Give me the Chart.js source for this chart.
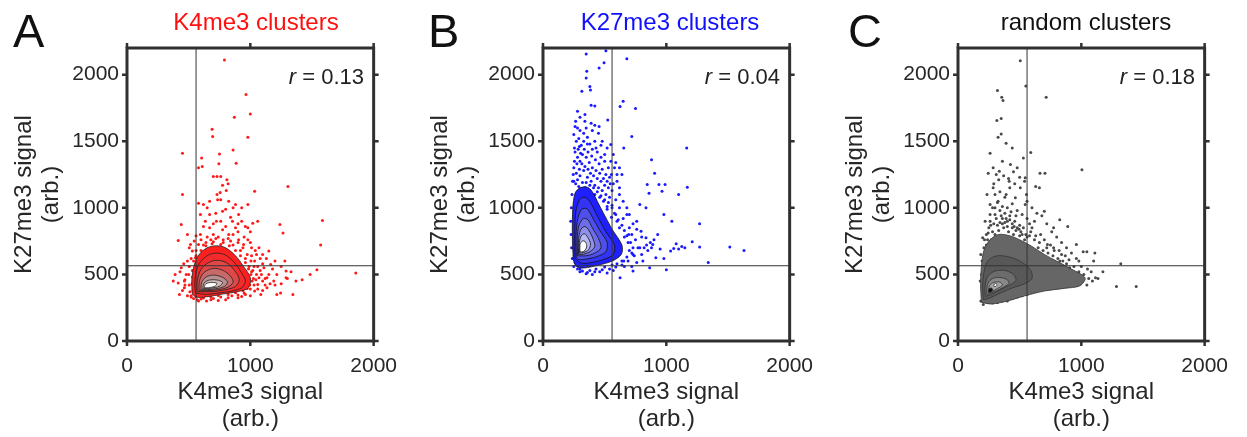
<!DOCTYPE html>
<html>
<head>
<meta charset="utf-8">
<script src="https://cdn.jsdelivr.net/npm/chart.js@4.4.1/dist/chart.umd.min.js"></script>
<style>
body { margin:0; background:#fff; width:1247px; height:437px; position:relative; overflow:hidden;
       font-family:"Liberation Sans", Arial, sans-serif; color:#222; }
canvas { position:absolute; top:0; }
.letter { position:absolute; top:7px; font-size:47px; line-height:1; color:#111; }
.title { position:absolute; top:10px; font-size:24px; line-height:1; transform:translateX(-50%); white-space:nowrap; }
.rval { position:absolute; top:66px; font-size:22px; line-height:1; transform:translateX(-100%); white-space:nowrap; color:#222; }
</style>
</head>
<body>
<canvas id="cA" width="410" height="437" style="left:0px"></canvas>
<canvas id="cB" width="410" height="437" style="left:416px"></canvas>
<canvas id="cC" width="410" height="437" style="left:831px"></canvas>

<div class="letter" style="left:13px">A</div>
<div class="letter" style="left:428px">B</div>
<div class="letter" style="left:848px">C</div>
<div class="title" id="tA" style="left:256px;color:#ff1010"></div>
<div class="title" id="tB" style="left:670px;color:#1010ff"></div>
<div class="title" id="tC" style="left:1086px;color:#111"></div>
<div class="rval" id="rA" style="left:364px"></div>
<div class="rval" id="rB" style="left:780px"></div>
<div class="rval" id="rC" style="left:1195px"></div>

<script>
// axes
const xTicks = [0, 1000, 2000];
const yTicks = [0, 500, 1000, 1500, 2000];
const xMax = 2000, yMax = 2200;
const refX = 560, refY = 565;   // the two cut-off lines

const panelTitles = ['K4me3 clusters', 'K27me3 clusters', 'random clusters'];
const rValues = ['0.13', '0.04', '0.18'];

// ---- panel A : K4me3 clusters ----
const aPoints = [
  [790,2110],[965,1850],[1000,1705],[870,1680],[690,1590],[695,1535],[980,1530],[450,1410],[750,1405],[860,1435],
  [885,1335],[605,1375],[745,1330],[700,1235],[730,1235],[760,1235],[810,1210],[820,1180],[775,1170],[805,1130],
  [755,1115],[450,1100],[1305,1160],[610,1310],[580,1300],[1035,1125],[730,1100],[670,1050],[580,1035],[620,1025],
  [735,1060],[825,1050],[880,1025],[930,1000],[980,1025],[905,950],[595,950],[775,975],[1020,885],[1060,900],
  [980,850],[440,875],[415,755],[490,800],[515,725],[1240,875],[1265,810],[1585,905],[1570,720],[1540,535],
  [1855,510],[1485,500],[1420,460],[1345,350],[1245,360],[1135,400],[1190,450],[1070,475],[1110,550],[1035,600],
  [1165,575],[1215,500],[1010,700],[905,760],[825,800],[775,835],[670,850],[635,900],[580,725],[530,675],
  [490,600],[440,550],[390,500],[375,450],[415,435],[465,400],[505,700],[545,750],[855,900],[930,900],
  [1070,700],[1150,675],[1290,475],[1370,450],[1215,350],[1085,350],[1035,375],[930,335],[800,310],[645,300],
  [570,310],[1060,425],[1135,475],[1290,525],[945,725],[670,950],[725,900],[880,850],[980,760],[595,800],
  [555,625],[465,450],[425,350],[540,320],[600,315],[700,320],[760,330],[850,340],[950,360],[1000,390],
  [1030,420],[1010,520],[990,560],[960,620],[920,680],[860,720],[780,740],[700,745],[620,720],[560,680],
  [520,620],[505,560],[500,500],[505,420],[510,370],[520,340],[1050,500],[1080,530],[1100,450],[1120,420],
  [1150,500],[1180,540],[1200,420],[1250,430],[1300,470],[1330,520],[650,780],[700,800],[740,780],[820,770],
  [860,800],[900,820],[950,780],[1000,740],[1050,650],[1080,620],[1100,580],[600,760],[560,790],[620,860],
  [700,880],[760,900],[800,860],[840,930],[900,880],[960,860],[1000,820],[720,960],[800,990],[860,1000],
  [760,1060],[650,1000],[1010,640],[1040,680],[1100,650],[1130,620],[1200,600],[1250,560],[1280,600],[480,500],
  [470,420],[450,380],[490,340],[470,460],[430,520],[460,580],[520,330],[580,300],[680,310],[740,305],
  [900,345],[960,350],[1015,450],[1025,470],[1005,500],[995,420],[975,395],[940,380],[880,362],[820,350],
  [740,342],[680,330],[620,322],[560,335],[535,380],[528,430],[530,480],[530,530],[540,600],[560,640],
  [600,680],[640,715],[690,730],[760,725],[830,715],[880,680],[920,640],[960,590],[985,540],[1020,530],
  [1045,460],[1060,390],[640,740],[680,760],[720,770],[780,760],[840,750],[900,740],[940,700],[975,650],
  [1005,600],[1030,560],[1060,560],[1090,500],[1120,470],[1160,430],[1100,380],[1000,340],[900,325],[820,325]
];
const aContours = [
  [[530,350],[525,450],[545,570],[585,650],[650,700],[725,715],[800,700],[880,640],[945,560],[1000,475],[985,400],[905,372],[775,352],[670,335],[570,328]],
  [[555,360],[550,450],[570,550],[610,610],[670,650],[730,660],[800,645],[870,590],[930,510],[960,450],[930,400],[850,375],[740,360],[640,350]],
  [[570,370],[568,440],[590,520],[630,570],[690,600],[750,605],[820,580],[880,520],[910,460],[880,410],[800,385],[700,372]],
  [[585,378],[585,440],[610,500],[660,535],[720,545],[790,525],[845,480],[860,440],[820,405],[740,385],[650,378]],
  [[600,385],[605,440],[640,480],[700,495],[770,480],[815,445],[790,410],[720,392],[650,385]],
  [[615,392],[625,435],[670,458],[730,458],[775,440],[750,412],[690,398]],
  [[625,400],[640,430],[690,440],[730,432],[710,410],[660,400]]
];
const aFills = ['#ff1f1f','#f52a2a','#e04848','#c86868','#b89090','#d4bcbc','#ffffff'];

// ---- panel B : K27me3 clusters ----
const bPoints = [
  [350,2155],[510,2180],[680,2120],[495,2090],[455,2050],[355,2025],[350,1975],[380,1910],[385,1885],[315,1875],
  [650,1800],[625,1760],[750,1745],[390,1770],[420,1765],[280,1725],[340,1650],[260,1610],[390,1635],[455,1610],
  [525,1660],[720,1535],[1165,1450],[550,1475],[655,1450],[880,1360],[905,1260],[845,1175],[940,1175],[990,1175],
  [860,1110],[965,1125],[1100,1100],[1170,1155],[1270,880],[1045,900],[980,950],[785,1025],[835,1000],[1515,705],
  [1630,680],[1340,590],[1270,705],[1210,745],[1125,710],[1150,700],[1060,695],[1035,675],[915,625],[1000,535],
  [865,550],[730,525],[625,475],[785,700],[835,775],[890,725],[795,825],[760,900],[680,950],[695,800],
  [655,600],[730,650],[810,600],[250,1550],[270,1500],[290,1520],[310,1470],[330,1560],[360,1530],[380,1480],
  [400,1440],[420,1500],[440,1420],[470,1380],[500,1350],[530,1300],[555,1250],[260,1420],[280,1380],[300,1350],
  [320,1400],[350,1380],[375,1340],[400,1300],[430,1280],[460,1260],[490,1220],[520,1200],[545,1180],[250,1300],
  [270,1260],[300,1240],[330,1280],[360,1230],[390,1200],[420,1170],[450,1150],[480,1130],[240,1200],[265,1180],
  [290,1160],[235,1100],[230,1000],[225,900],[228,800],[232,700],[238,620],[250,560],[280,540],[320,525],
  [380,530],[430,540],[500,555],[560,570],[600,580],[640,600],[680,630],[700,680],[690,740],[660,780],
  [620,850],[600,900],[580,960],[560,1020],[540,1080],[510,1100],[560,1130],[590,1060],[620,1000],[650,920],
  [700,850],[720,800],[750,760],[770,700],[740,640],[600,1200],[620,1150],[570,1400],[590,1340],[520,1450],
  [480,1500],[450,1560],[420,1620],[300,1680],[340,1700],[280,1600],[490,1050],[520,990],[555,930],[520,1010],
  [460,1080],[420,1100],[380,1130],[340,1150],[300,1140],[570,530],[520,510],[460,520],[400,500],[350,505],
  [300,520],[660,560],[720,560],[760,590],[800,650],[820,700],[850,680],[870,740],[900,760],[930,800],
  [950,690],[980,620],[1080,730],[1100,690],[245,1250],[255,1350],[275,1330],[295,1290],[315,1330],[340,1310],
  [365,1290],[385,1260],[410,1240],[440,1220],[470,1200],[500,1170],[530,1150],[255,1450],[285,1440],[305,1410],
  [335,1440],[365,1420],[395,1390],[425,1360],[455,1330],[480,1290],[510,1250],[540,1230],[265,1650],[300,1580],
  [350,1600],[400,1580],[430,1450],[470,1470],[360,1480],[330,1500],[295,1460],[500,1400],[550,1350],[580,1300],
  [600,1250],[570,1180],[620,1100],[650,1050],[680,1000],[700,950],[730,880],[760,840],[800,780],[840,720],
  [880,700],[620,1300],[640,1250],[250,1200],[280,1210],[320,1190],[350,1190],[380,1170],[410,1150],[440,1120],
  [470,1090],[500,1060],[530,1040],[560,1000],[590,950],[610,910],[640,870],[660,830],[680,790],[710,740],
  [730,700],[720,660],[690,600],[640,570],[590,555],[540,540],[480,535],[420,520],[360,515],[300,540],[260,590]
];
const bContours = [
  [[245,610],[238,800],[242,1000],[260,1110],[300,1150],[360,1155],[400,1120],[440,1050],[490,960],[560,840],[640,720],[635,650],[560,600],[450,570],[330,548],[270,560]],
  [[260,620],[258,800],[265,960],[295,1060],[340,1080],[385,1040],[440,940],[510,820],[580,720],[570,650],[500,615],[400,590],[310,585]],
  [[270,630],[268,790],[282,920],[315,990],[358,992],[400,930],[460,830],[520,740],[510,670],[440,635],[350,615],[290,612]],
  [[280,640],[278,770],[292,870],[328,920],[365,910],[400,850],[450,770],[470,700],[420,660],[350,640]],
  [[288,650],[288,760],[303,830],[333,860],[365,840],[400,780],[420,710],[380,670],[330,652]],
  [[295,660],[295,740],[310,790],[336,805],[362,780],[385,730],[370,685],[330,665]],
  [[300,670],[300,725],[318,750],[340,748],[355,715],[340,680],[315,668]]
];
const bFills = ['#1f1fff','#3434f4','#4f4fec','#6d6de6','#9090ea','#b8b8f2','#ffffff'];

// ---- panel C : random clusters ----
const cPoints = [
  [505,2105],[550,1915],[715,1830],[320,1880],[355,1830],[365,1805],[315,1655],[350,1670],[325,1530],[350,1555],
  [390,1485],[440,1450],[590,1415],[1005,1285],[665,1260],[705,1260],[530,1375],[260,1410],[285,1300],[245,1260],
  [310,1250],[360,1350],[425,1325],[480,1300],[545,1225],[630,1160],[660,1150],[825,910],[890,860],[700,975],
  [775,850],[960,725],[1015,670],[1045,670],[1110,660],[1175,520],[1115,475],[1135,470],[1320,580],[1285,410],
  [1445,410],[1045,420],[995,450],[905,550],[825,600],[980,600],[930,450],[1020,500],[775,700],[670,800],
  [725,725],[620,900],[545,1025],[465,1075],[390,1100],[325,1050],[260,1025],[220,900],[200,775],[185,650],
  [180,450],[185,300],[205,275],[400,300],[335,1275],[415,1200],[505,1150],[285,1150],[235,1100],[555,1100],
  [260,900],[300,950],[340,980],[380,960],[420,940],[460,900],[500,870],[280,1000],[320,1040],[360,1010],
  [400,1000],[440,1030],[480,980],[520,950],[560,920],[580,880],[600,850],[250,850],[230,800],[650,700],
  [690,680],[730,660],[770,640],[810,620],[850,600],[880,580],[920,520],[950,500],[1000,470],[860,470],
  [820,450],[780,430],[740,410],[700,395],[640,380],[600,370],[560,350],[520,340],[480,330],[440,320],
  [360,300],[320,290],[280,285],[240,290],[210,320],[195,400],[190,500],[195,600],[210,700],[300,1100],
  [340,1120],[380,1080],[420,1150],[460,1180],[290,1180],[330,1210],[370,1240],[410,1220],[450,1270],[500,1230],
  [540,1200],[560,1050],[600,1000],[640,960],[680,940],[720,880],[760,820],[800,780],[840,740],[880,700],
  [920,660],[960,620],[1000,560],[1050,540],[1080,520],[1100,600],[590,820],[630,790],[560,780],[520,800],
  [480,850],[440,880],[400,900],[360,920],[290,880],[240,760],[700,760],[750,720],[820,680],[870,640],
  [940,560],[980,520],[1060,470],[1090,450],[230,720],[250,700],[270,760],[300,800],[330,830],[370,850],
  [410,820],[450,800],[500,790],[540,760],[280,820],[320,870],[360,880],[400,860],[440,850],[470,830],
  [510,820],[550,800],[220,650],[240,620],[300,720],[420,700],[480,720],[260,950],[300,1000],[350,940],
  [390,920],[430,970],[470,940],[340,890],[215,760],[245,810],[265,870],[310,920],[380,890],[420,910],
  [455,860],[495,840],[530,850],[580,790],[620,760],[660,740],[720,700],[780,680],[840,650],[900,610]
];
const cContours = [
  [[190,290],[183,420],[190,560],[210,680],[260,760],[330,800],[420,790],[500,760],[600,710],[700,650],[800,600],[900,550],[1030,475],[990,415],[860,395],[700,375],[545,340],[400,300],[270,278]],
  [[205,310],[200,420],[215,540],[250,610],[320,640],[420,630],[520,590],[590,530],[600,470],[540,430],[430,395],[320,350],[250,320]],
  [[220,335],[220,420],[245,490],[300,525],[380,530],[450,500],[470,455],[420,420],[340,385],[270,350]],
  [[232,350],[238,420],[268,462],[325,478],[390,465],[415,435],[370,405],[300,372]],
  [[245,365],[255,415],[290,440],[340,442],[360,420],[320,395],[275,372]],
  [[245,368],[250,392],[272,398],[282,382],[265,366]],
  [[290,410],[295,428],[312,432],[315,418],[302,408]]
];
const cFills = ['#666666','#585858','#6c6c6c','#888888','#a6a6a6','#111111','#ffffff'];

Chart.defaults.font.family = '"Liberation Sans", Arial, sans-serif';
Chart.defaults.color = '#262626';

const framePlugin = {
  id: 'frame',
  afterDatasetsDraw(chart) {
    const {ctx, chartArea: a, scales: {x, y}} = chart;
    const t = 5;
    ctx.save();
    ctx.strokeStyle = '#303030';
    ctx.lineWidth = 2.5;
    ctx.beginPath();
    xTicks.forEach(v => {
      const px = x.getPixelForValue(v);
      ctx.moveTo(px, a.bottom); ctx.lineTo(px, a.bottom + t);
      ctx.moveTo(px, a.top); ctx.lineTo(px, a.top - t);
    });
    yTicks.forEach(v => {
      const py = y.getPixelForValue(v);
      ctx.moveTo(a.left - t, py); ctx.lineTo(a.left, py);
      ctx.moveTo(a.right, py); ctx.lineTo(a.right + t, py);
    });
    ctx.stroke();
    ctx.lineWidth = 3;
    ctx.strokeRect(a.left, a.top, a.right - a.left, a.bottom - a.top);
    ctx.restore();
  }
};

function makePanel(id, points, contours, fills, dotColor, lineColor, padRight) {
  const datasets = [];
  datasets.push({ data: [{x: refX, y: 0}, {x: refX, y: yMax}], showLine: true,
    borderColor: '#333', borderWidth: 1, pointRadius: 0, order: 0 });
  datasets.push({ data: [{x: 0, y: refY}, {x: xMax, y: refY}], showLine: true,
    borderColor: '#333', borderWidth: 1, pointRadius: 0, order: 0 });
  contours.forEach((poly, i) => {
    const pts = poly.map(p => ({x: p[0], y: p[1]}));
    pts.push(pts[0]);
    datasets.push({ data: pts, showLine: true, fill: 'shape', backgroundColor: fills[i],
      borderColor: lineColor, borderWidth: 0.8, pointRadius: 0, tension: 0.3, order: 20 - i });
  });
  datasets.push({ data: points.map(p => ({x: p[0], y: p[1]})), pointRadius: 1.5,
    pointBorderWidth: 0, backgroundColor: dotColor, pointBackgroundColor: dotColor, order: 30 });

  new Chart(document.getElementById(id), {
    type: 'scatter',
    data: { datasets: datasets },
    plugins: [framePlugin],
    options: {
      responsive: false, animation: false, devicePixelRatio: 1,
      layout: { padding: { top: 48, right: padRight, left: 0, bottom: 0 } },
      plugins: { legend: { display: false }, tooltip: { enabled: false } },
      scales: {
        x: {
          type: 'linear', min: 0, max: xMax,
          grid: { display: false, drawTicks: false }, border: { display: false },
          afterBuildTicks: s => { s.ticks = xTicks.map(v => ({value: v})); },
          afterFit: s => { s.height = 96; },
          ticks: { font: { size: 21 }, padding: 13, maxRotation: 0, autoSkip: false,
                   callback: v => String(v) },
          title: { display: true, text: ['K4me3 signal', '(arb.)'],
                   font: { size: 24, lineHeight: 1.12 }, padding: { top: 0, bottom: 4.5 } }
        },
        y: {
          type: 'linear', min: 0, max: yMax,
          grid: { display: false, drawTicks: false }, border: { display: false },
          afterBuildTicks: s => { s.ticks = yTicks.map(v => ({value: v})); },
          afterFit: s => { s.width = 127; },
          ticks: { font: { size: 21 }, padding: 8, autoSkip: false, callback: v => String(v) },
          title: { display: true, text: ['K27me3 signal', '(arb.)'],
                   font: { size: 24, lineHeight: 1.12 }, padding: { top: 11, bottom: 0 } }
        }
      }
    }
  });
}

makePanel('cA', aPoints, aContours, aFills, '#ff1a1a', '#222', 25);
makePanel('cB', bPoints, bContours, bFills, '#1a1aff', '#111', 28);
makePanel('cC', cPoints, cContours, cFills, '#4a4a4a', '#333', 25);

['A', 'B', 'C'].forEach((k, i) => {
  document.getElementById('t' + k).textContent = panelTitles[i];
  document.getElementById('r' + k).innerHTML = '<i>r</i> = ' + rValues[i];
});
</script>
</body>
</html>
